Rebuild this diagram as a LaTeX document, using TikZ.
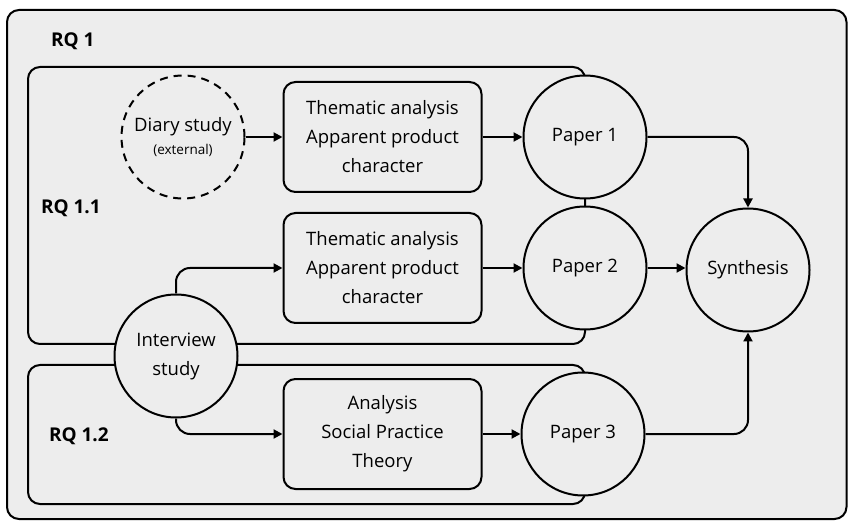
\documentclass[tikz,border=0pt]{standalone}
\usepackage{fontspec}
\setmainfont{Open Sans}
\usetikzlibrary{arrows.meta}
\definecolor{bg}{HTML}{EDEDED}
\begin{document}
\begin{tikzpicture}[x=1pt,y=-1pt, line width=2pt,
  every node/.style={font=\fontsize{18.5}{29}\selectfont},
  circ/.style={circle, draw, fill=bg, minimum size=123pt, inner sep=0pt, align=center},
  box/.style={rectangle, rounded corners=12pt, draw, fill=bg, minimum width=198pt, minimum height=110pt, align=center, inner sep=0pt},
  conn/.style={-{Triangle[length=9pt,width=9pt]}, rounded corners=14pt},
  rq/.style={font=\fontsize{19}{22}\selectfont\bfseries, anchor=west, inner sep=0pt},
  frame/.style={draw, fill=bg, rounded corners=12pt}]
\useasboundingbox (0,0) rectangle (849,521);
\fill[white] (0,0) rectangle (849,521);
\draw[frame] (7,10) rectangle (846.5,519);
\draw[frame] (28,67) rectangle (585,344);
\draw[frame] (28,365) rectangle (585,504);

\node[rq] (rq1) at (50,41) {RQ 1};
\node[rq] (rq11) at (40,208) {RQ 1.1};
\node[rq] (rq12) at (48,436) {RQ 1.2};

\node[circ, dashed, dash pattern=on 8pt off 6pt] (diary) at (183,137) {Diary study\\[-6pt]\fontsize{13.5}{18}\selectfont(external)};
\node[circ] (interview) at (176,356) {Interview\\study};
\node[box] (box1) at (382.5,137) {Thematic analysis\\Apparent product\\character};
\node[box] (box2) at (382.5,268) {Thematic analysis\\Apparent product\\character};
\node[box] (box3) at (382.5,434) {Analysis\\Social Practice\\Theory};
\node[circ] (p1) at (585,137) {Paper 1};
\node[circ] (p2) at (585,268) {Paper 2};
\node[circ] (p3) at (583,434) {Paper 3};
\node[circ] (syn) at (748,270) {Synthesis};

\draw[conn] (diary.east) -- (box1.west);
\draw[conn] (interview.north) |- (box2.west);
\draw[conn] (interview.south) |- (box3.west);
\draw[conn] (box1.east) -- (p1.west);
\draw[conn] (box2.east) -- (p2.west);
\draw[conn] (box3.east) -- (p3.west);
\draw[conn] (p1.east) -| (syn.north);
\draw[conn] (p2.east) -- (p2.east -| syn.west);
\draw[conn] (p3.east) -| (syn.south);
\end{tikzpicture}
\end{document}
